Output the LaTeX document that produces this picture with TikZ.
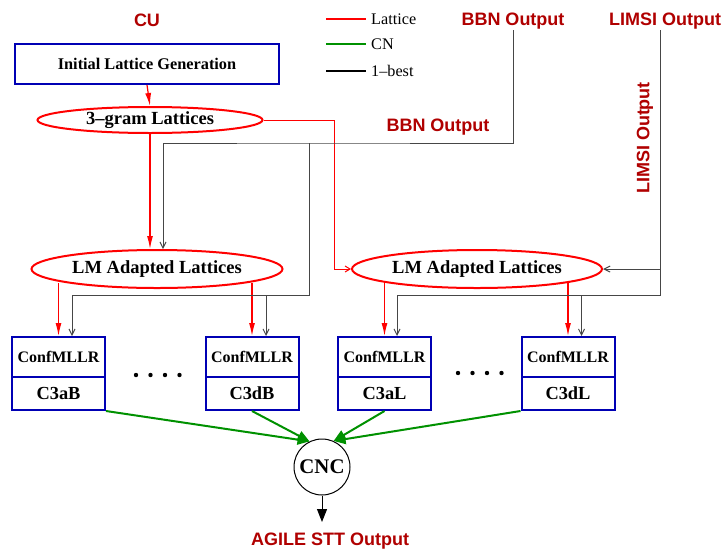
\documentclass[tikz,border=0pt]{standalone}
\usepackage{fontspec}
\setmainfont{Liberation Serif}
\setsansfont{Liberation Sans}
\usepackage{tikz}
\usetikzlibrary{shapes.geometric, arrows.meta}

\definecolor{lblred}{RGB}{176,0,0}
\definecolor{boxblue}{RGB}{0,0,180}
\definecolor{cngreen}{RGB}{0,145,0}
\definecolor{bestgray}{RGB}{70,70,70}

\begin{document}
\begin{tikzpicture}[x=1pt, y=-1pt,
  site/.style={font=\fontsize{18}{20}\sffamily\bfseries, text=lblred, inner sep=1pt},
  genbox/.style={draw=boxblue, line width=2pt, minimum width=264, minimum height=40,
    font=\fontsize{16.3}{18}\bfseries},
  latt/.style={ellipse, draw=red, line width=2pt, inner sep=0pt,
    font=\fontsize{18.5}{20}\bfseries},
  cfbox/.style={draw=boxblue, line width=2pt, minimum width=93, minimum height=40,
    inner sep=0pt, font=\fontsize{16}{18}\bfseries},
  sysbox/.style={draw=boxblue, line width=2pt, minimum width=93, minimum height=33,
    inner sep=0pt, font=\fontsize{18.4}{20}\bfseries},
  legtext/.style={anchor=west, inner sep=0pt, font=\fontsize{16.2}{18}\selectfont},
  lat/.style={draw=red, line width=1.2pt, -{Latex[length=13pt, width=6pt]}},
  latthin/.style={draw=red, line width=1pt, -{Straight Barb[length=5pt, width=6pt]}},
  best/.style={draw=bestgray, line width=1pt, -{Straight Barb[length=6pt, width=6pt]}},
  cn/.style={draw=cngreen, line width=2pt, -{Triangle[length=12pt, width=10pt]}}]
\useasboundingbox (0,0) rectangle (727,552);

% labels
\node[site] (cu) at (147,20) {CU};
\node[site] (bbntop) at (513,21) {BBN Output};
\node[site] (limtop) at (665,21) {LIMSI Output};
\node[site] (bbnmid) at (438,127) {BBN Output};
\node[site, rotate=90] (limmid) at (645,138) {LIMSI Output};
\node[site] (agile) at (330,541) {AGILE STT Output};

% legend
\coordinate (lega) at (326,19);
\coordinate (legb) at (326,44);
\coordinate (legc) at (326,71);
\node[legtext] (tlat) at (371,19) {Lattice};
\node[legtext] (tcn) at (371,44) {CN};
\node[legtext] (tbest) at (371,71) {1–best};
\draw[red, line width=2pt] (lega) -- ++(40,0);
\draw[cngreen, line width=2pt] (legb) -- ++(40,0);
\draw[black, line width=2pt] (legc) -- ++(40,0);

% lattice generation
\node[genbox] (init) at (147,64) {Initial Lattice Generation};
\node[latt, minimum width=225, minimum height=26] (tri) at (150,120) {3–gram Lattices};
\node[latt, minimum width=251, minimum height=38] (lma) at (157,269) {LM Adapted Lattices};
\node[latt, minimum width=250, minimum height=38] (lmb) at (477,269) {LM Adapted Lattices};

% systems
\node[cfbox] (cf1) at (58.5,357) {ConfMLLR};
\node[sysbox] (c3ab) at (58.5,393.5) {C3aB};
\node[cfbox] (cf2) at (252,357) {ConfMLLR};
\node[sysbox] (c3db) at (252,393.5) {C3dB};
\node[cfbox] (cf3) at (384.5,357) {ConfMLLR};
\node[sysbox] (c3al) at (384.5,393.5) {C3aL};
\node[cfbox] (cf4) at (568,357) {ConfMLLR};
\node[sysbox] (c3dl) at (568,393.5) {C3dL};
\foreach \x in {0,...,3} {
  \fill (136+\x*14.5,375) circle (2.2);
  \fill (458+\x*14.5,373) circle (2.2);
}

\node[circle, draw, line width=1pt, minimum size=56, inner sep=0pt,
  font=\fontsize{20.8}{22}\bfseries] (cnc) at (322,467) {CNC};
\coordinate (outend) at (322,522);

% lattice paths
\draw[lat] (init.south) -- (tri.north);
\draw[lat] (tri.south) -- (tri.south |- lma.north);
\draw[latthin] (tri.east) -| ([xshift=-17]lmb.west) -- (lmb.west);
\draw[lat] ([yshift=6]cf1.north |- lma.south) -- (cf1.north);
\draw[lat] ([yshift=6]cf2.north |- lma.south) -- (cf2.north);
\draw[lat] ([yshift=6]cf3.north |- lmb.south) -- (cf3.north);
\draw[lat] ([yshift=6]cf4.north |- lmb.south) -- (cf4.north);

% 1-best paths
\coordinate (bj) at (309,143);
\coordinate (bk) at (309,295);
\coordinate (lj) at (660,295);
\draw[best] (bbntop.south) |- (bj) -| ([xshift=6]lma.north);
\draw[best] (bj) -- (bk) -| ([xshift=13.5]cf1.north);
\draw[best] ([xshift=14]cf2.north |- bk) -- ([xshift=14]cf2.north);
\draw[best] ([xshift=-5]limtop.south) |- (lmb.east);
\draw[best] (lmb.east -| lj) -- (lj) -| ([xshift=12.5]cf3.north);
\draw[best] ([xshift=13.5]cf4.north |- lj) -- ([xshift=13.5]cf4.north);

% CN paths
\draw[cn] (c3ab.south east) -- (cnc.116);
\draw[cn] (c3db.south) -- (cnc.116);
\draw[cn] (c3al.south) -- (cnc.66);
\draw[cn] (c3dl.south west) -- (cnc.66);
\draw[line width=1pt, -{Triangle[length=13pt, width=10pt]}] (cnc.south) -- (outend);
\end{tikzpicture}
\end{document}
